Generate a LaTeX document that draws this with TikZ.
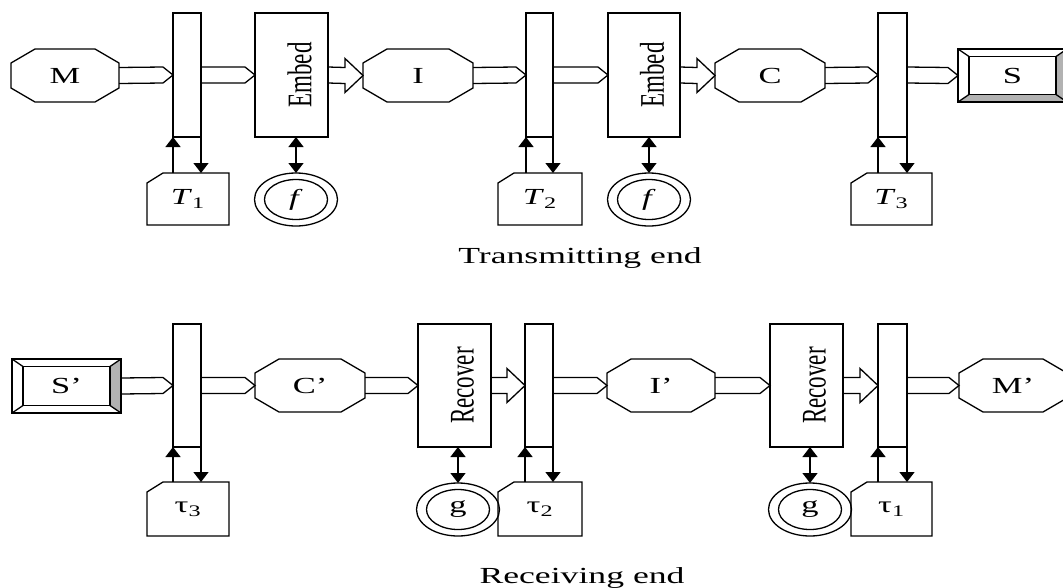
\documentclass[tikz,border=0pt]{standalone}
\usepackage{fontspec}
\setmainfont{Liberation Serif}
\usetikzlibrary{calc,arrows.meta,shapes.geometric}
\newcommand\wide[1]{\scalebox{1.5}[1]{#1}}
\newcommand\octo[1]{\draw[edgeline] ($(#1.north west)+(24,0)$) -- ($(#1.north east)+(-24,0)$) -- ($(#1.north east)+(0,14)$) -- ($(#1.south east)+(0,-14)$) -- ($(#1.south east)+(-24,0)$) -- ($(#1.south west)+(24,0)$) -- ($(#1.south west)+(0,-14)$) -- ($(#1.north west)+(0,14)$) -- cycle;}
\newcommand\tabbox[1]{\draw[edgeline] ($(#1.north west)+(16,0)$) -- (#1.north east) -- (#1.south east) -- (#1.south west) -- ($(#1.north west)+(0,10)$) -- cycle;}
\newcommand\thinarr[2]{\draw[edgeline] ($(#1.east)+(0,-8)$) -- ($(#2.west)+(-10,-8)$) -- (#2.west) -- ($(#2.west)+(-10,8)$) -- ($(#1.east)+(0,8)$);}
\newcommand\fatarr[2]{\draw[edgeline] ($(#1.east)+(0,-8)$) -- ($(#2.west)+(-18,-8)$) -- ($(#2.west)+(-18,-17)$) -- (#2.west) -- ($(#2.west)+(-18,17)$) -- ($(#2.west)+(-18,8)$) -- ($(#1.east)+(0,8)$);}
\newcommand\ringin[1]{\draw[edgeline] (#1.center) ellipse [x radius=31.5pt, y radius=20pt];}
\newcommand\bevelframe[1]{%
  \draw[edgeline] (#1.north west) rectangle (#1.south east);
  \draw[edgeline] ($(#1.north west)+(11,7.5)$) rectangle ($(#1.south east)+(-11,-7.5)$);
  \draw[edgeline] (#1.north west) -- ++(11,7.5);
  \draw[edgeline] (#1.north east) -- ++(-11,7.5);
  \draw[edgeline] (#1.south west) -- ++(11,-7.5);
  \draw[edgeline] (#1.south east) -- ++(-11,-7.5);}
\newcommand\updown[2]{%
  \draw[edgeline, arrowone] (#2.north -| #1.south west) -- (#1.south west);
  \draw[edgeline, arrowone] (#1.south east) -- (#1.south east |- #2.north);}
\newcommand\tlabel[2]{\raisebox{-4pt}{\wide{\textit{#1}\textsubscript{#2}}}}
\newcommand\taulabel[1]{\raisebox{-3pt}{\wide{τ\textsubscript{#1}}}}
\begin{document}
\begin{tikzpicture}[x=1pt,y=-1pt,
  every node/.style={inner sep=0pt, outer sep=0pt, font=\fontsize{23}{27}\selectfont},
  edgeline/.style={line width=1.3pt, line join=miter},
  ghostbox/.style={rectangle, draw=none, minimum width=108pt, minimum height=53pt},
  tabnode/.style={rectangle, draw=none, minimum width=82pt},
  barbox/.style={rectangle, draw, line width=1.3pt, minimum width=28pt, minimum height=124pt},
  procbox/.style={rectangle, draw, line width=1.3pt, minimum width=73pt, minimum height=124pt},
  ringnode/.style={ellipse, draw, line width=1.3pt, minimum width=83pt, minimum height=53pt},
  arrowone/.style={-{Triangle[width=15pt,length=10pt]}},
  arrowtwo/.style={{Triangle[width=15pt,length=10pt]}-{Triangle[width=15pt,length=10pt]}},
  bevgray/.style={fill=gray!60}
]
\useasboundingbox (0,0) rectangle (1063,587);
% ---------- top row ----------
\node[ghostbox] (M) at (65,75.5) {\wide{M}};
\node[barbox] (b1) at (187,75) {};
\node[procbox] (E1) at (291.5,75) {\hspace*{16pt}\wide{\rotatebox{90}{Embed}}};
\node[ghostbox, minimum width=110pt] (I) at (418,75.5) {\wide{I}};
\node[barbox, minimum width=27pt] (b2) at (539.5,75) {};
\node[procbox, minimum width=72pt] (E2) at (644,75) {\hspace*{16pt}\wide{\rotatebox{90}{Embed}}};
\node[ghostbox, minimum width=110pt] (C) at (770,75.5) {\wide{C}};
\node[barbox, minimum width=29pt] (b3) at (892.5,75) {};
\node[ghostbox, minimum width=109pt] (S) at (1012.5,75.5) {};
\node[tabnode, minimum height=52pt] (T1) at (188,199) {\tlabel{T}{1}};
\node[tabnode, minimum width=84pt, minimum height=52pt] (T2) at (540,199) {\tlabel{T}{2}};
\node[tabnode, minimum width=81pt, minimum height=52pt] (T3) at (891.5,199) {\tlabel{T}{3}};
\node[ringnode] (f1) at (296,199.5) {\wide{\textit{f}}};
\node[ringnode] (f2) at (649,199.5) {\wide{\textit{f}}};
\node (tx) at (580,258) {\scalebox{1.55}[1]{Transmitting end}};
% ---------- bottom row ----------
\node[ghostbox, minimum width=109pt, minimum height=54pt] (Sp) at (66.5,386) {};
\node[barbox, minimum height=123pt] (c1) at (187,385.5) {};
\node[ghostbox, minimum width=110pt] (Cp) at (310,385.5) {\wide{C'}};
\node[procbox, minimum height=123pt] (R1) at (454.5,385.5) {\hspace*{16pt}\wide{\rotatebox{90}{Recover}}};
\node[barbox, minimum height=123pt] (c2) at (539,385.5) {};
\node[ghostbox] (Ip) at (661,385.5) {\wide{I'}};
\node[procbox, minimum height=123pt] (R2) at (806.5,385.5) {\hspace*{16pt}\wide{\rotatebox{90}{Recover}}};
\node[barbox, minimum width=29pt, minimum height=123pt] (c3) at (892.5,385.5) {};
\node[ghostbox] (Mp) at (1013,385.5) {\wide{M'}};
\node[tabnode, minimum height=54pt] (t3) at (188,509) {\taulabel{3}};
\node[tabnode, minimum width=84pt, minimum height=54pt] (t2) at (540,509) {\taulabel{2}};
\node[tabnode, minimum width=81pt, minimum height=54pt] (t1) at (891.5,509) {\taulabel{1}};
\node[ringnode] (g1) at (458,509.5) {\wide{g}};
\node[ringnode] (g2) at (810,509.5) {\wide{g}};
\node (rx) at (582,578) {\scalebox{1.55}[1]{Receiving end}};
% ---------- shapes ----------
\octo{M}\octo{I}\octo{C}\octo{Cp}\octo{Ip}\octo{Mp}
\tabbox{T1}\tabbox{T2}\tabbox{T3}\tabbox{t1}\tabbox{t2}\tabbox{t3}
\ringin{f1}\ringin{f2}\ringin{g1}\ringin{g2}
% bevel boxes
\fill[bevgray] (S.south west) -- (S.south east) -- ($(S.south east)+(-11,-7.5)$) -- ($(S.south west)+(11,-7.5)$) -- cycle;
\fill[bevgray] (S.north east) -- (S.south east) -- ($(S.south east)+(-11,-7.5)$) -- ($(S.north east)+(-11,7.5)$) -- cycle;
\bevelframe{S}
\node (Slbl) at (S.center) {\wide{S}};
\fill[bevgray] (Sp.north east) -- (Sp.south east) -- ($(Sp.south east)+(-11,-7.5)$) -- ($(Sp.north east)+(-11,7.5)$) -- cycle;
\bevelframe{Sp}
\node (Splbl) at (Sp.center) {\wide{S'}};
% ---------- connectors ----------
\thinarr{M}{b1}\thinarr{b1}{E1}\fatarr{E1}{I}\thinarr{I}{b2}\thinarr{b2}{E2}\fatarr{E2}{C}\thinarr{C}{b3}\thinarr{b3}{S}
\thinarr{Sp}{c1}\thinarr{c1}{Cp}\thinarr{Cp}{R1}\fatarr{R1}{c2}\thinarr{c2}{Ip}\thinarr{Ip}{R2}\fatarr{R2}{c3}\thinarr{c3}{Mp}
\updown{b1}{T1}\updown{b2}{T2}\updown{b3}{T3}
\updown{c1}{t3}\updown{c2}{t2}\updown{c3}{t1}
\draw[edgeline, arrowtwo] (f1.north |- E1.south) -- (f1.north);
\draw[edgeline, arrowtwo] (f2.north |- E2.south) -- (f2.north);
\draw[edgeline, arrowtwo] (g1.north |- R1.south) -- (g1.north);
\draw[edgeline, arrowtwo] (g2.north |- R2.south) -- (g2.north);
\end{tikzpicture}
\end{document}
